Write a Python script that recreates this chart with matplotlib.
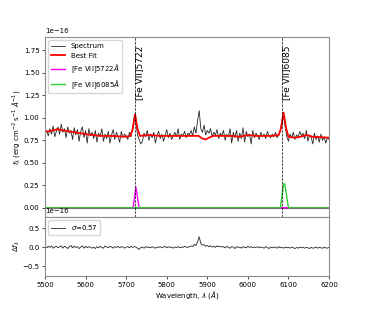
import numpy as np
import matplotlib
matplotlib.use("Agg")
import matplotlib.pyplot as plt

# wavelength grid of the spectrum (4 A steps)
wave = np.arange(5500, 6201, 4)

# observed flux, units of 1e-16 erg/cm2/s/A
flux = [
    0.83, 0.86, 0.80, 0.88, 0.82, 0.91, 0.79, 0.85, 0.90, 0.82,
    0.93, 0.84, 0.88, 0.78, 0.90, 0.83, 0.86, 0.76, 0.89, 0.81,
    0.87, 0.74, 0.85, 0.90, 0.78, 0.86, 0.72, 0.88, 0.80, 0.84,
    0.77, 0.86, 0.73, 0.83, 0.79, 0.88, 0.74, 0.82, 0.77, 0.85,
    0.72, 0.81, 0.87, 0.76, 0.84, 0.79, 0.73, 0.85, 0.78, 0.82,
    0.80, 0.76, 0.84, 0.79, 0.90, 1.02, 0.95, 0.81, 0.76, 0.71,
    0.74, 0.83, 0.79, 0.86, 0.75, 0.82, 0.78, 0.84, 0.72, 0.80,
    0.85, 0.77, 0.82, 0.74, 0.81, 0.87, 0.78, 0.83, 0.76, 0.80,
    0.84, 0.79, 0.88, 0.76, 0.82, 0.80, 0.85, 0.78, 0.83, 0.81,
    0.86, 0.80, 0.90, 0.83, 0.97, 1.08, 0.88, 0.84, 0.92, 0.81,
    0.86, 0.83, 0.88, 0.79, 0.84, 0.81, 0.87, 0.77, 0.83, 0.80,
    0.86, 0.75, 0.82, 0.79, 0.88, 0.72, 0.84, 0.78, 0.86, 0.74,
    0.83, 0.77, 0.89, 0.73, 0.85, 0.79, 0.82, 0.71, 0.86, 0.78,
    0.83, 0.80, 0.76, 0.84, 0.79, 0.82, 0.77, 0.85, 0.80, 0.78,
    0.82, 0.79, 0.84, 0.78, 0.81, 0.86, 0.98, 1.04, 0.90, 0.79,
    0.74, 0.82, 0.78, 0.84, 0.76, 0.81, 0.79, 0.85, 0.80, 0.83,
    0.77, 0.86, 0.74, 0.81, 0.78, 0.71, 0.83, 0.76, 0.80, 0.73,
    0.82, 0.75, 0.79, 0.72, 0.78, 0.76,
]

# residuals, same grid
resid = [
    0.02, -0.01, 0.03, 0.00, 0.04, -0.02, 0.01, 0.03, -0.01, 0.02,
    0.04, -0.02, 0.03, 0.01, -0.03, 0.02, 0.05, -0.01, 0.03, 0.00,
    0.02, -0.03, 0.01, 0.04, -0.02, 0.03, -0.01, 0.02, 0.00, -0.02,
    0.01, -0.03, 0.02, -0.01, 0.03, 0.00, -0.02, 0.04, 0.01, -0.01,
    0.03, 0.01, -0.02, 0.02, 0.00, 0.03, -0.01, 0.02, 0.01, -0.02,
    0.01, 0.02, -0.01, 0.03, 0.00, 0.02, 0.01, -0.02, -0.05, 0.00,
    0.01, -0.02, 0.02, 0.00, 0.01, -0.01, 0.02, 0.00, -0.02, 0.01,
    0.00, 0.02, -0.01, 0.01, 0.03, -0.01, 0.02, 0.00, 0.01, -0.02,
    0.01, 0.00, 0.02, -0.01, 0.01, 0.00, 0.03, 0.01, 0.00, 0.02,
    0.04, 0.02, 0.08, 0.05, 0.15, 0.28, 0.10, 0.06, 0.07, 0.03,
    0.05, 0.02, 0.04, 0.01, 0.03, 0.00, 0.04, 0.02, 0.03, 0.01,
    0.02, -0.01, 0.03, 0.00, -0.02, 0.02, 0.01, -0.03, 0.02, 0.00,
    0.01, -0.02, 0.02, 0.00, -0.01, 0.03, 0.00, 0.02, -0.01, 0.01,
    0.00, 0.02, -0.01, 0.01, 0.00, -0.02, 0.02, 0.00, -0.03, 0.01,
    -0.01, 0.01, 0.00, -0.02, 0.02, -0.01, 0.00, -0.02, 0.01, -0.01,
    0.00, -0.02, 0.01, -0.01, -0.03, 0.00, -0.02, 0.01, -0.01, 0.00,
    -0.02, 0.00, -0.01, -0.03, 0.00, -0.02, -0.01, 0.01, -0.02, 0.00,
    -0.01, -0.02, 0.00, -0.01, -0.02, 0.00,
]

# best fit model (knots)
fit_wave = [5500, 5520, 5530, 5545, 5560, 5580, 5600, 5615, 5640, 5660, 5680,
            5700, 5710, 5716, 5722, 5728, 5734, 5760, 5780, 5800, 5830, 5860,
            5878, 5888, 5896, 5904, 5915, 5940, 5960, 5980, 6000, 6020, 6040,
            6060, 6076, 6082, 6088, 6094, 6100, 6115, 6130, 6145, 6160, 6180, 6200]
fit_flux = [0.845, 0.86, 0.875, 0.86, 0.85, 0.835, 0.82, 0.81, 0.80, 0.80, 0.795,
            0.79, 0.80, 0.87, 1.04, 0.88, 0.80, 0.81, 0.80, 0.80, 0.80, 0.80,
            0.80, 0.77, 0.76, 0.78, 0.80, 0.80, 0.80, 0.79, 0.81, 0.80, 0.80,
            0.80, 0.81, 0.89, 1.06, 0.89, 0.79, 0.78, 0.79, 0.81, 0.79, 0.785, 0.78]

# line components
fe5722_wave = [5500, 5717, 5724, 5732, 6200]
fe5722_flux = [0.0, 0.0, 0.23, 0.0, 0.0]
fe6085_wave = [5500, 6080, 6088, 6091, 6100, 6200]
fe6085_flux = [0.0, 0.0, 0.265, 0.265, 0.0, 0.0]

line_waves = [5722, 6085]
line_names = ["[Fe VII]5722", "[Fe VII]6085"]
sigma = 0.57

scale = 1e-16
fs = 5

plt.rcParams['font.size'] = fs
fig = plt.figure(figsize=(3.66, 3.11), dpi=100)
ax = fig.add_axes([0.123, 0.303, 0.776, 0.578])
axr = fig.add_axes([0.123, 0.1125, 0.776, 0.19], sharex=ax)

ax.plot(wave, np.array(flux) * scale, color='k', lw=0.6, alpha=0.85, label='Spectrum')
ax.plot(fit_wave, np.array(fit_flux) * scale, color='red', lw=1.3, label='Best Fit')
ax.plot(fe5722_wave, np.array(fe5722_flux) * scale, color='magenta', lw=1.0,
        label=r'[Fe VII]5722$\AA$')
ax.plot(fe6085_wave, np.array(fe6085_flux) * scale, color='limegreen', lw=1.0,
        label=r'[Fe VII]6085$\AA$')
ax.axhline(0, color='0.3', lw=1.5, zorder=1)

for lw_, name in zip(line_waves, line_names):
    ax.axvline(lw_, color='k', ls='--', lw=0.5)
    ax.text(lw_, 1.80 * scale, name, rotation=90, ha='left', va='top', fontsize=6.5)

ax.set_xlim(5500, 6200)
ax.set_ylim(-0.1 * scale, 1.9 * scale)
ax.set_yticks(np.array([0, 0.25, 0.5, 0.75, 1.0, 1.25, 1.5, 1.75]) * scale)
ax.set_ylabel(r'$f_\lambda$ (erg cm$^{-2}$ s$^{-1}$ $\AA^{-1}$)', fontsize=fs)
ax.yaxis.set_label_coords(-0.082, 0.5)
ax.legend(loc='upper left', fontsize=fs, frameon=True)
ax.tick_params(labelbottom=False)

axr.plot(wave, np.array(resid) * scale, color='k', lw=0.6, alpha=0.85,
         label=r'$\sigma$=%.2f' % sigma)
axr.set_ylim(-0.75 * scale, 0.8 * scale)
axr.set_yticks(np.array([-0.5, 0.0, 0.5]) * scale)
axr.set_ylabel(r'$\Delta f_\lambda$', fontsize=fs)
axr.yaxis.set_label_coords(-0.082, 0.5)
axr.set_xlabel(r'Wavelength, $\lambda$ ($\AA$)', fontsize=fs, labelpad=1)
axr.set_xticks([5500, 5600, 5700, 5800, 5900, 6000, 6100, 6200])
axr.legend(loc='upper left', fontsize=fs, frameon=True)

for a in (ax, axr):
    a.ticklabel_format(axis='y', style='sci', scilimits=(-16, -16))
    a.tick_params(labelsize=fs, length=2.5, width=0.5, pad=1.5)
    for s in a.spines.values():
        s.set_color('0.55')
        s.set_linewidth(0.8)
    a.yaxis.get_offset_text().set_fontsize(fs)

fig.savefig('out.png', dpi=100)
